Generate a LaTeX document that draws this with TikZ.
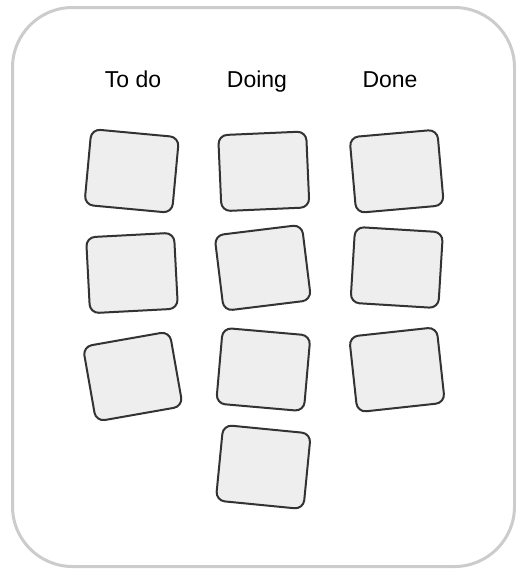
\documentclass[tikz,border=0pt]{standalone}
\usepackage{fontspec}
\setmainfont{Liberation Sans}
\definecolor{framegray}{HTML}{CCCCCC}
\definecolor{cardfill}{HTML}{EEEEEE}
\definecolor{cardline}{HTML}{333333}
\begin{document}
\begin{tikzpicture}[x=1pt,y=-1pt,
  frame/.style={draw=framegray,line width=3pt,fill=white,rounded corners=60pt},
  card/.style={draw=cardline,fill=cardfill,line width=2pt,rectangle,rounded corners=9pt,
    minimum width=88pt,minimum height=76pt,inner sep=0pt},
  head/.style={anchor=base,font=\fontsize{23}{27}\selectfont,text=black,inner sep=0pt}]
\useasboundingbox (0,0) rectangle (516,570);
\draw[frame] (12.5,7.5) rectangle (514.5,566.5);
\node[head] (todo) at (133,87) {To do};
\node[head] (doing) at (257,87) {Doing};
\node[head] (done) at (390,87) {Done};
\node[card,rotate=-5.3] (a1) at (131.7,171) {};
\node[card,rotate=3] (a2) at (132,273) {};
\node[card,rotate=10] (a3) at (132.8,376.5) {};
\node[card,rotate=2.5] (b1) at (263.8,171.3) {};
\node[card,rotate=7] (b2) at (262.8,267.8) {};
\node[card,rotate=-5] (b3) at (263.3,369.5) {};
\node[card,rotate=-5.6] (b4) at (263.3,467) {};
\node[card,rotate=5] (c1) at (396.7,171.3) {};
\node[card,rotate=-3.5] (c2) at (396.7,267.5) {};
\node[card,rotate=6.2] (c3) at (397,369.7) {};
\end{tikzpicture}
\end{document}
